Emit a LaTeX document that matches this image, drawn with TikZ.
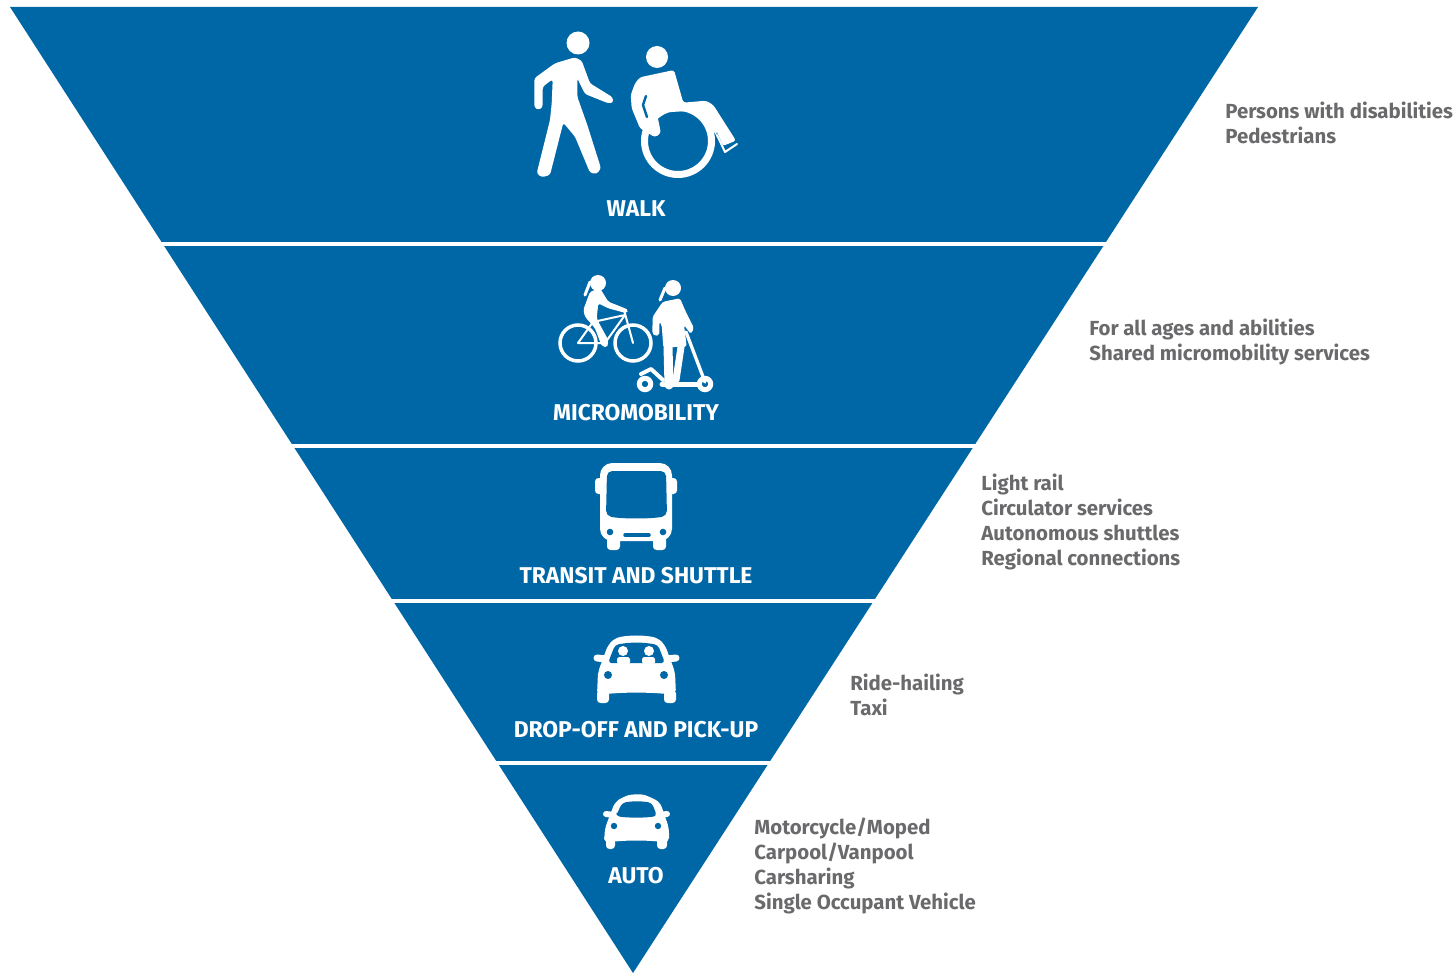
\documentclass[tikz,border=0pt]{standalone}
\usepackage{fontspec}
\setmainfont{Fira Sans}
\usepackage[HTML]{xcolor}
\usepackage{tikz}
\definecolor{bandblue}{HTML}{0067A7}
\definecolor{notegray}{HTML}{6A6A6C}
\tikzset{
  modename/.style={text=white, font=\bfseries\fontsize{13}{14}\selectfont, inner sep=0pt},
  modenote/.style={text=notegray, font=\bfseries\fontsize{11.6}{14.1}\selectfont, inner sep=0pt, anchor=north west, align=left},
  limb/.style={draw=white, line width=#1*0.02cm, line cap=round, line join=round},
  cut/.style={draw=bandblue, line width=#1*0.02cm, line cap=round, line join=round},
}
\begin{document}
\begin{tikzpicture}[x=0.02cm, y=-0.02cm]
\useasboundingbox (0,0) rectangle (1453,973);
% Inverted triangle with its bands
\fill[bandblue] (10,7) -- (1258,7) -- (633,973) -- cycle;
\foreach \y in {244,446,601,763}
  \draw[white, line width=0.08cm] (100,\y) -- (1200,\y);

% Walker
\fill[white] (578,43) circle (11.5);
\fill[white, rounded corners=1.5pt] (555,63.3) -- (575,57.3) -- (581.7,60.7) -- (590,83.3) -- (612.7,97.3) -- (613.3,102.7) -- (608.3,103.3) -- (585,94) -- (577.3,78.3) -- (577.3,96.7) -- (587.3,125) -- (601,168.3) -- (596.7,174) -- (590,172.7) -- (575,136.7) -- (563.3,122.7) -- (550,175) -- (541.7,177.3) -- (536.7,173.3) -- (550,120) -- (551.7,103.3) -- (552.7,79.3) -- (542.7,86.7) -- (542.7,107.3) -- (538.3,110) -- (534.3,107.3) -- (534.3,78.3) -- cycle;

% Wheelchair
\fill[white] (657,57) circle (11);
\draw[white, line width=0.14cm] (678,141) circle (33.5);
\fill[white, rounded corners=1.5pt] (640,77.3) -- (674,70) -- (683.3,102.7) -- (706,100.7) -- (713.3,105) -- (736,140.7) -- (722.7,146) -- (706.7,120) -- (686.7,111) -- (656.7,113) -- (660,128.3) -- (660.7,133.3) -- (655,137.3) -- (640,128.3) -- (631.7,108.3) -- (630.7,95) -- (635,83.3) -- cycle;
\draw[cut=2.5] (646,96) -- (643,105) -- (647,117);
\draw[cut=1] (716.7,133) -- (723,146.7);
\draw[limb=2] (717,135) -- (725,152) -- (737,144);

% Cyclist
\draw[white, line width=0.07cm] (578,343) circle (18);
\draw[white, line width=0.07cm] (633,343) circle (18);
\draw[limb=2] (578,343) -- (593,322) -- (605,343) -- cycle;
\draw[limb=2] (593,322) -- (625,315) -- (605,343);
\draw[limb=2] (624,310) -- (633,343);
\fill[white] (598,283) circle (8);
\draw[limb=3] (590,282) -- (585,295);
\fill[white, rounded corners=1pt] (590,291.7) -- (600,288.3) -- (608.3,301.7) -- (625,308.3) -- (628.3,310) -- (626.7,313.3) -- (608.3,308.3) -- (598.3,303.3) -- (596.7,318.3) -- (598.3,321.7) -- (608.3,340) -- (607.3,347.3) -- (601.7,346) -- (595,328.3) -- (585,316.7) -- (583.3,310) -- cycle;

% Scooter rider
\fill[white] (673,288) circle (8);
\draw[limb=3] (665,288) -- (660,300);
\fill[white, rounded corners=1pt] (663.3,301.7) -- (680,298.3) -- (685,310) -- (694,328.3) -- (690.7,334) -- (684,325) -- (686.7,346.7) -- (663.3,347.3) -- (661.7,325) -- (659.3,321.7) -- (659.3,335) -- (655,336) -- (652.3,333.3) -- (652.7,316.7) -- (661.7,303.3) -- cycle;
\draw[limb=9] (668,347) -- (669,385);
\draw[limb=7] (681,347) -- (676,380);
\draw[limb=3.3] (686,332) -- (705,382);
\draw[limb=5] (662,384) -- (698,384);
\draw[limb=4] (641,374) -- (651,369) -- (663,380);
\draw[white, line width=0.1cm] (645,384) circle (5.7);
\draw[white, line width=0.1cm] (705,384) circle (5.7);

% Bus
\fill[white, rounded corners=2pt] (595,478) rectangle (677,494);
\fill[white, rounded corners=2pt] (607,535) rectangle (620,550);
\fill[white, rounded corners=2pt] (653,535) rectangle (666,550);
\fill[white, rounded corners=7pt] (600,463) rectangle (672,541);
\fill[bandblue, rounded corners=3pt] (607,471) -- (666,471) -- (667,516) .. controls (650,519) and (623,519) .. (606,516) -- cycle;
\fill[bandblue] (610,532) circle (3.3);
\fill[bandblue] (663,532) circle (3.3);
\draw[cut=3.5] (625,535) -- (649,535);

% Drop-off car
\draw[limb=7] (597,658) -- (606,659);
\draw[limb=7] (676,658) -- (667,659);
\fill[white, rounded corners=2pt] (597,690) rectangle (609,703);
\fill[white, rounded corners=2pt] (664,690) rectangle (676,703);
\fill[white, rounded corners=3pt] (597,695) -- (598,672) -- (608,645) -- (615,638) .. controls (630,635) and (643,635) .. (658,638) -- (665,645) -- (675,672) -- (676,695) .. controls (650,692) and (623,692) .. (597,695) -- cycle;
\fill[bandblue, rounded corners=2pt] (608,663) -- (615,645) .. controls (630,642) and (643,642) .. (658,645) -- (665,663) -- cycle;
\fill[white] (623,651) circle (5);
\fill[white] (649,651) circle (5);
\fill[white, rounded corners=1pt] (617,657) rectangle (630,664);
\fill[white, rounded corners=1pt] (642,657) rectangle (655,664);
\fill[bandblue] (608,675) circle (4);
\fill[bandblue] (664,675) circle (4);

% Auto
\draw[limb=6] (606,814) -- (614,815);
\draw[limb=6] (667,814) -- (659,815);
\fill[white, rounded corners=2pt] (606,838) rectangle (615,849);
\fill[white, rounded corners=2pt] (657,838) rectangle (667,849);
\fill[white, rounded corners=3pt] (604,843) -- (605,828) -- (615,802) -- (623,797) .. controls (632,794) and (642,794) .. (650,797) -- (660,802) -- (669,828) -- (669,843) .. controls (650,840) and (623,840) .. (604,843) -- cycle;
\fill[bandblue, rounded corners=2pt] (616,816) -- (622,803) .. controls (632,801) and (642,801) .. (652,803) -- (657,816) .. controls (645,818) and (628,818) .. (616,816) -- cycle;
\fill[bandblue] (614,826) circle (3.2);
\fill[bandblue] (658,826) circle (3.2);

% Band names
\node[modename] (walk) at (636,209) {WALK};
\node[modename] (micro) at (636,413) {MICROMOBILITY};
\node[modename] (transit) at (636,576) {TRANSIT AND SHUTTLE};
\node[modename] (dropoff) at (636,730) {DROP-OFF AND PICK-UP};
\node[modename] (auto) at (636,876) {AUTO};

% Notes on the right
\node[modenote] (walknote) at (1225,102) {Persons with disabilities\\Pedestrians};
\node[modenote] (micronote) at (1089,319) {For all ages and abilities\\Shared micromobility services};
\node[modenote] (transitnote) at (981,474) {Light rail\\Circulator services\\Autonomous shuttles\\Regional connections};
\node[modenote] (dropoffnote) at (850,674) {Ride-hailing\\Taxi};
\node[modenote] (autonote) at (754,818) {Motorcycle/Moped\\Carpool/Vanpool\\Carsharing\\Single Occupant Vehicle};
\end{tikzpicture}
\end{document}
